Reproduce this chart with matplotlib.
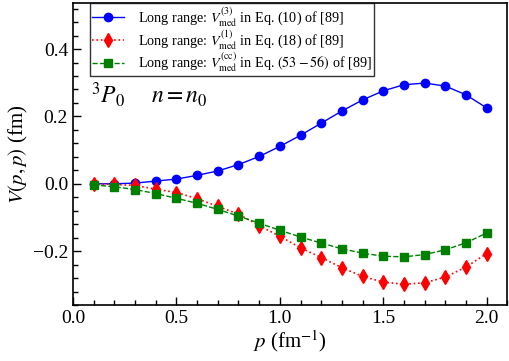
import numpy as np
import matplotlib
matplotlib.use('Agg')
import matplotlib.pyplot as plt
from matplotlib.ticker import MultipleLocator

plt.rcParams['font.family'] = 'Liberation Serif'
plt.rcParams['mathtext.fontset'] = 'stix'

# momentum grid (fm^-1)
p = [0.1, 0.2, 0.3, 0.4, 0.5, 0.6, 0.7, 0.8, 0.9, 1.0,
     1.1, 1.2, 1.3, 1.4, 1.5, 1.6, 1.7, 1.8, 1.9, 2.0]

# V(p,p) in fm
v_eq10 = [0.000, 0.000, 0.002, 0.008, 0.014, 0.025, 0.038, 0.057, 0.081, 0.111,
          0.144, 0.180, 0.216, 0.249, 0.276, 0.294, 0.299, 0.290, 0.264, 0.225]
v_eq18 = [0.000, -0.002, -0.005, -0.016, -0.026, -0.044, -0.067, -0.090, -0.124, -0.156,
          -0.190, -0.219, -0.249, -0.275, -0.292, -0.298, -0.294, -0.277, -0.247, -0.207]
v_eq53 = [-0.003, -0.009, -0.017, -0.029, -0.043, -0.058, -0.076, -0.096, -0.117, -0.138,
          -0.158, -0.176, -0.193, -0.206, -0.215, -0.217, -0.210, -0.196, -0.175, -0.146]

labels = [r'Long range: $V_{\rm med}^{(3)}$ in Eq. (10) of [89]',
          r'Long range: $V_{\rm med}^{(1)}$ in Eq. (18) of [89]',
          r'Long range: $V_{\rm med}^{(\rm cc)}$ in Eq. $(53-56)$ of [89]']

fig = plt.figure(figsize=(5.1, 3.61), dpi=100)
ax = fig.add_axes([0.143, 0.155, 0.852, 0.837])

ax.plot(p, v_eq10, '-', color='#0000ff', marker='o', ms=6, lw=1.0, label=labels[0])
ax.plot(p, v_eq18, ':', color='#ff0000', marker='d', ms=7.5, lw=1.2, label=labels[1])
ax.plot(p, v_eq53, '--', color='#008000', marker='s', ms=6, lw=1.0, label=labels[2])

ax.set_xlim(0, 2.1)
ax.set_ylim(-0.36, 0.537)
ax.xaxis.set_major_locator(MultipleLocator(0.5))
ax.xaxis.set_minor_locator(MultipleLocator(0.1))
ax.yaxis.set_major_locator(MultipleLocator(0.2))
ax.yaxis.set_minor_locator(MultipleLocator(0.04))
ax.tick_params(which='both', direction='in', top=False, right=False, labelsize=14)
ax.tick_params(which='major', length=6, width=1)
ax.tick_params(which='minor', length=3.5, width=1)
for s in ax.spines.values():
    s.set_linewidth(1.2)

ax.set_xlabel(r'$p$ (fm$^{-1}$)', fontsize=15, labelpad=1)
ax.set_ylabel(r'$V(p,p)$ (fm)', fontsize=15, labelpad=2)

ax.text(0.042, 0.668, r'$^3P_0\quad\;\; n=n_0$', transform=ax.transAxes, fontsize=17, zorder=5)

leg = ax.legend(loc='upper left', bbox_to_anchor=(0.04, 1.0), borderaxespad=0,
                fontsize=10.2, handlelength=2.2, handletextpad=1.0, frameon=True,
                fancybox=False, borderpad=0.15, labelspacing=0.0)
leg.get_frame().set_edgecolor('black')
leg.get_frame().set_linewidth(1.0)

fig.savefig('out.png', dpi=100)
